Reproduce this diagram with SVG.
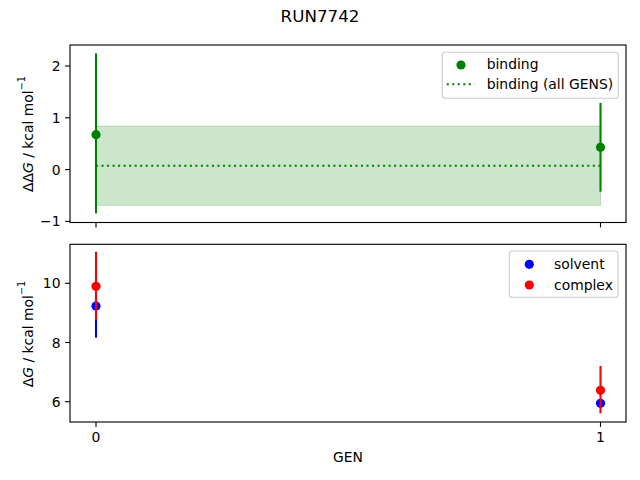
<svg xmlns="http://www.w3.org/2000/svg" width="640" height="480" viewBox="0 0 640 480">
<style>
text{font-family:"DejaVu Sans","Liberation Sans",sans-serif;font-size:13.9px;fill:#000}
.spine{fill:none;stroke:#000;stroke-width:1.11}
.tick{stroke:#000;stroke-width:1.11}
.ytl{text-anchor:end}
.xtl{text-anchor:middle}
.leg{fill:#fff;fill-opacity:0.8;stroke:#ccc;stroke-width:1.11}
.eg{stroke:#008000;stroke-width:2.08}
.eb{stroke:#0000ff;stroke-width:2.08}
.er{stroke:#ff0000;stroke-width:2.08}
.dot{stroke:#008000;stroke-width:2.08;stroke-dasharray:2.08 3.44}
</style>
<rect width="640" height="480" fill="#fff"/>
<text id="title" x="320" y="21.5" text-anchor="middle" style="font-size:16.7px">RUN7742</text>

<g id="top-axes">
  <rect x="70" y="45" width="556" height="177.5" fill="#fff"/>
  <rect x="96" y="126" width="504.5" height="79.3" fill="#008000" fill-opacity="0.2" stroke="#008000" stroke-opacity="0.2" stroke-width="1"/>
  <line class="dot" x1="96" y1="165.7" x2="600.5" y2="165.7"/>
  <g id="binding">
    <line class="eg" x1="96" y1="53.3" x2="96" y2="213.3"/>
    <circle cx="96" cy="134.7" r="4.6" fill="#008000"/>
    <line class="eg" x1="600.5" y1="102.9" x2="600.5" y2="191.7"/>
    <circle cx="600.5" cy="147.3" r="4.6" fill="#008000"/>
  </g>
  <rect class="spine" x="70" y="45" width="556" height="177.5"/>
  <g id="top-yticks">
    <line class="tick" x1="65.1" y1="66" x2="70" y2="66"/>
    <line class="tick" x1="65.1" y1="117.8" x2="70" y2="117.8"/>
    <line class="tick" x1="65.1" y1="169.6" x2="70" y2="169.6"/>
    <line class="tick" x1="65.1" y1="221.4" x2="70" y2="221.4"/>
    <text class="ytl" x="60.5" y="71">2</text>
    <text class="ytl" x="60.5" y="122.8">1</text>
    <text class="ytl" x="60.5" y="174.6">0</text>
    <text class="ytl" x="60.5" y="226.4">−1</text>
  </g>
  <line class="tick" x1="96" y1="222.5" x2="96" y2="227.4"/>
  <line class="tick" x1="600.5" y1="222.5" x2="600.5" y2="227.4"/>
  <text transform="translate(32.5,134) rotate(-90)" text-anchor="middle">ΔΔ<tspan font-style="italic">G</tspan> / kcal mol<tspan dy="-7.5" style="font-size:9.7px">−1</tspan></text>
  <g id="top-legend">
    <rect class="leg" x="442.3" y="52.3" width="176" height="46" rx="2.8"/>
    <circle cx="461" cy="65" r="4.6" fill="#008000"/>
    <text x="486.7" y="69.3">binding</text>
    <line class="dot" x1="446.7" y1="84.3" x2="474.5" y2="84.3"/>
    <text x="486.7" y="88.5">binding (all GENS)</text>
  </g>
</g>

<g id="bottom-axes">
  <rect x="70" y="244.3" width="556" height="177.7" fill="#fff"/>
  <g id="solvent">
    <line class="eb" x1="96" y1="274.3" x2="96" y2="337.7"/>
    <circle cx="96" cy="306" r="4.6" fill="#0000ff"/>
    <line class="eb" x1="600.5" y1="399" x2="600.5" y2="407.6"/>
    <circle cx="600.5" cy="403.3" r="4.6" fill="#0000ff"/>
  </g>
  <g id="complex">
    <line class="er" x1="96" y1="251.7" x2="96" y2="320"/>
    <circle cx="96" cy="286.3" r="4.6" fill="#ff0000"/>
    <line class="er" x1="600.5" y1="366" x2="600.5" y2="413.3"/>
    <circle cx="600.5" cy="390.3" r="4.6" fill="#ff0000"/>
  </g>
  <rect class="spine" x="70" y="244.3" width="556" height="177.7"/>
  <g id="bottom-yticks">
    <line class="tick" x1="65.1" y1="283.3" x2="70" y2="283.3"/>
    <line class="tick" x1="65.1" y1="342.5" x2="70" y2="342.5"/>
    <line class="tick" x1="65.1" y1="401.7" x2="70" y2="401.7"/>
    <text class="ytl" x="60.5" y="288.3">10</text>
    <text class="ytl" x="60.5" y="347.5">8</text>
    <text class="ytl" x="60.5" y="406.7">6</text>
  </g>
  <g id="xticks">
    <line class="tick" x1="96" y1="422" x2="96" y2="426.9"/>
    <line class="tick" x1="600.5" y1="422" x2="600.5" y2="426.9"/>
    <text class="xtl" x="96" y="442.3">0</text>
    <text class="xtl" x="600.5" y="442.3">1</text>
  </g>
  <text x="348" y="462" text-anchor="middle">GEN</text>
  <text transform="translate(32.5,334) rotate(-90)" text-anchor="middle">Δ<tspan font-style="italic">G</tspan> / kcal mol<tspan dy="-7.5" style="font-size:9.7px">−1</tspan></text>
  <g id="bottom-legend">
    <rect class="leg" x="509.3" y="251" width="108.7" height="46.3" rx="2.8"/>
    <circle cx="529.3" cy="264.3" r="4.6" fill="#0000ff"/>
    <text x="554" y="268.7">solvent</text>
    <circle cx="529.3" cy="285" r="4.6" fill="#ff0000"/>
    <text x="554" y="289.5">complex</text>
  </g>
</g>
</svg>
